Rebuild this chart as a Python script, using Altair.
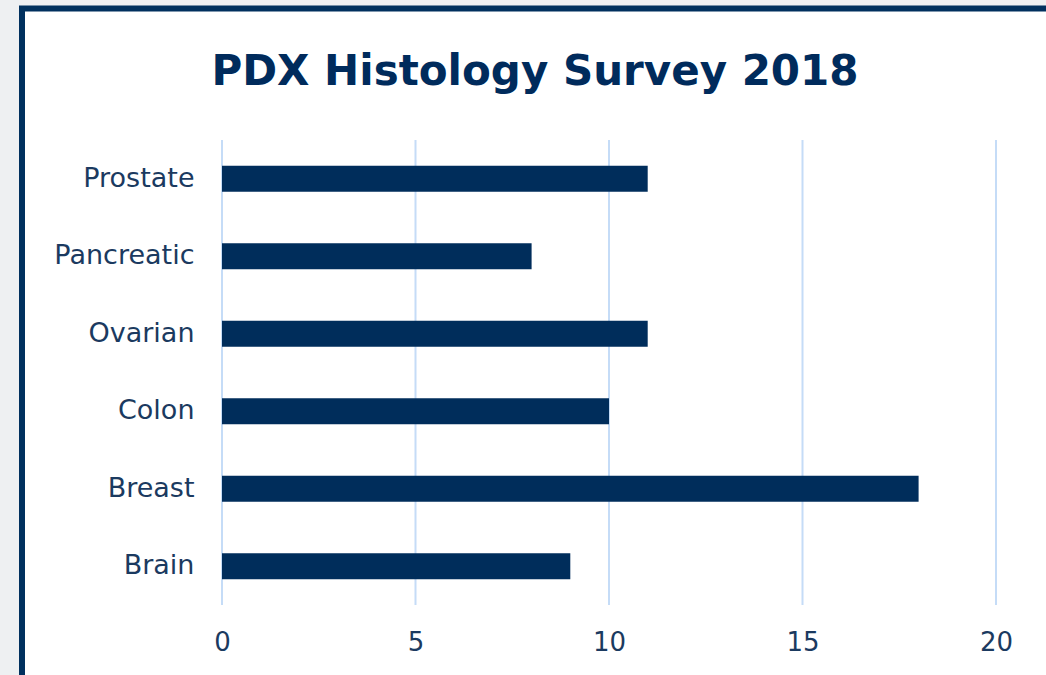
import altair as alt
import pandas as pd

categories = ["Prostate", "Pancreatic", "Ovarian", "Colon", "Breast", "Brain"]
values = [11, 8, 11, 10, 18, 9]
x_ticks = [0, 5, 10, 15, 20]
title_text = ["PDX Histology Survey 2018"]

df = pd.DataFrame({"cat": categories, "val": values})
ticks_df = pd.DataFrame({"val": x_ticks})
title_df = pd.DataFrame({"t": title_text})

NAVY = "#002d5b"
LABEL = "#1b3a60"
FONT = "DejaVu Sans"
W, H = 774, 465

xscale = alt.Scale(domain=[0, 20], nice=False)
xaxis = alt.Axis(values=x_ticks, title=None, grid=False, domain=False, ticks=False,
                 labelFontSize=26, labelPadding=24, labelColor=LABEL,
                 labelFont=FONT, labelFlush=False, zindex=1)

frame = alt.Chart(title_df).mark_rect(fill="white", stroke="#00305e", strokeWidth=6).encode(
    x=alt.value(-200), x2=alt.value(W + 200),
    y=alt.value(-131.5), y2=alt.value(H + 200),
)

grid = alt.Chart(ticks_df).mark_rule(color="#c5dcf7", strokeWidth=2).encode(
    x=alt.X("val:Q", scale=xscale, axis=xaxis),
    y=alt.value(0), y2=alt.value(H),
)

bars = alt.Chart(df).mark_bar(color=NAVY).encode(
    x=alt.X("val:Q", scale=xscale, axis=xaxis),
    y=alt.Y("cat:N", sort=categories,
            scale=alt.Scale(paddingInner=0.665, paddingOuter=0.3325),
            axis=alt.Axis(title=None, grid=False, domain=False, ticks=False,
                          labelFontSize=27, labelPadding=28, labelColor=LABEL,
                          labelFont=FONT, zindex=1)),
)

title = alt.Chart(title_df).mark_text(
    font=FONT, fontSize=42, fontWeight="bold", color="#002b5c",
    align="center", baseline="alphabetic",
).encode(text="t:N", x=alt.value(313), y=alt.value(-55))

chart = alt.layer(frame, grid, bars, title).properties(
    width=W, height=H,
    background="#eef0f2",
    autosize=alt.AutoSizeParams(type="none"),
    padding={"left": 222, "top": 140, "right": 50, "bottom": 70},
).configure_view(stroke=None)

chart.save("out.html", embed_options={"renderer": "svg", "actions": False})
